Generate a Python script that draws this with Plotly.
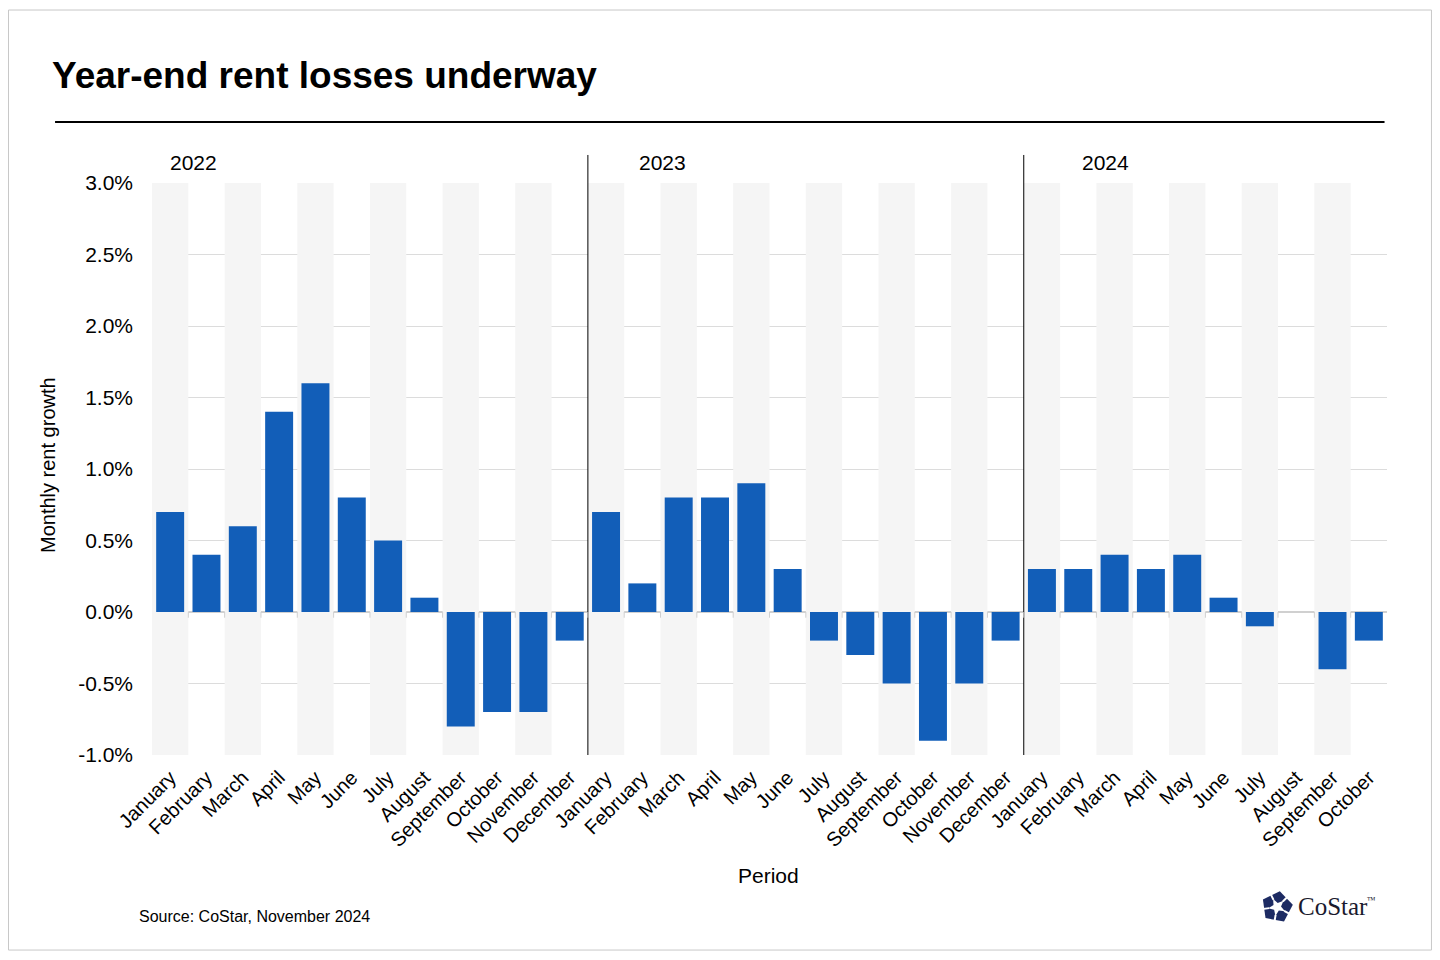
import math
import plotly.graph_objects as go

# monthly rent growth, %
months_2022 = ["January", "February", "March", "April", "May", "June", "July",
               "August", "September", "October", "November", "December"]
months_2023 = list(months_2022)
months_2024 = months_2022[:10]

growth_2022 = [0.7, 0.4, 0.6, 1.4, 1.6, 0.8, 0.5, 0.1, -0.8, -0.7, -0.7, -0.2]
growth_2023 = [0.7, 0.2, 0.8, 0.8, 0.9, 0.3, -0.2, -0.3, -0.5, -0.9, -0.5, -0.2]
growth_2024 = [0.3, 0.3, 0.4, 0.3, 0.4, 0.1, -0.1, 0.0, -0.4, -0.2]

years = ["2022", "2023", "2024"]
year_label_x = [0.034, 0.413, 0.772]

tick_vals = [0.03, 0.025, 0.02, 0.015, 0.01, 0.005, 0.0, -0.005, -0.01]
tick_text = ["3.0%", "2.5%", "2.0%", "1.5%", "1.0%", "0.5%", "0.0%", "-0.5%", "-1.0%"]

labels = months_2022 + months_2023 + months_2024
values = [v / 100 for v in growth_2022 + growth_2023 + growth_2024]
idx = list(range(len(labels)))

FONT = "Liberation Sans, Arial, sans-serif"
SERIF = "Liberation Serif, Times New Roman, serif"
BLUE = "#125EB8"
NAVY = "#1d2b63"

fig = go.Figure()

# alternating grey column bands
band_x = [i for i in idx if i % 2 == 0]
fig.add_trace(go.Bar(
    x=band_x, y=[0.04] * len(band_x), base=[-0.01] * len(band_x),
    width=1, marker=dict(color="#f5f5f5", line=dict(width=0)),
    hoverinfo="skip", showlegend=False,
))

fig.add_trace(go.Bar(
    x=idx, y=values, width=0.77,
    marker=dict(color=BLUE, line=dict(width=0)),
    showlegend=False,
))

fig.update_layout(
    width=1424, height=944,
    barmode="overlay",
    paper_bgcolor="white", plot_bgcolor="white",
    margin=dict(l=144, r=45, t=175, b=197),
    font=dict(family=FONT, color="black"),
    title=dict(text="<b>Year-end rent losses underway</b>", xref="container", yref="container",
               x=0.0309, y=0.929, xanchor="left", yanchor="middle",
               font=dict(size=37, family=FONT, color="black")),
)

fig.update_xaxes(
    range=[-0.5, len(labels) - 0.5],
    tickmode="array", tickvals=idx, ticktext=labels,
    tickangle=-45, tickfont=dict(size=20),
    showgrid=False, zeroline=False, showline=False, ticks="",
    ticklabelstandoff=6,
)

fig.update_yaxes(
    range=[-0.01, 0.03],
    tickmode="array", tickvals=tick_vals, ticktext=tick_text,
    tickfont=dict(size=21),
    showgrid=True, gridcolor="#dcdcdc", gridwidth=1,
    zeroline=True, zerolinecolor="#d0d0d0", zerolinewidth=1.5,
    ticklabelstandoff=18,
)


def poly(points):
    return "M " + " L ".join(f"{x:.1f} {y:.1f}" for x, y in points) + " Z"


shapes = []
# outer frame
shapes.append(dict(type="rect", xref="paper", yref="paper",
                   x0=-0.1162, x1=1.0360, y0=-0.341, y1=1.3024,
                   line=dict(color="#c8c8c8", width=1), layer="below"))
# rule under the title
shapes.append(dict(type="line", xref="paper", yref="paper",
                   x0=-0.0785, x1=0.998, y0=1.1066, y1=1.1066,
                   line=dict(color="black", width=2)))
# year dividers
for b in [11.5, 23.5]:
    shapes.append(dict(type="line", xref="x", yref="paper",
                       x0=b, x1=b, y0=0, y1=1.049,
                       line=dict(color="black", width=1)))
# small ticks along the zero line between categories
for i in idx[:-1]:
    shapes.append(dict(type="line", xref="x", yref="y",
                       x0=i + 0.5, x1=i + 0.5, y0=0, y1=-0.0004,
                       line=dict(color="#d0d0d0", width=1)))

# logo mark: navy pentagon with a white star cut in
cx, cy, R = 15, 15, 16
rot = 80
outer = [(cx + R * math.cos(math.radians(rot + 72 * k)), cy + R * math.sin(math.radians(rot + 72 * k)))
         for k in range(5)]
star = []
for k in range(10):
    r = 9 if k % 2 == 0 else 4
    a = math.radians(rot + 36 + 36 * k)
    star.append((cx + r * math.cos(a), cy + r * math.sin(a)))
logo = dict(xref="paper", yref="paper", xsizemode="pixel", ysizemode="pixel",
            xanchor=0.8988, yanchor=-0.292)
shapes.append(dict(type="path", path=poly(outer), fillcolor=NAVY, line=dict(width=0), **logo))
shapes.append(dict(type="path", path=poly(star), fillcolor="white", line=dict(width=0), **logo))
for k in range(5):
    a = math.radians(rot + 36 + 72 * k)
    shapes.append(dict(type="path",
                       path=f"M {cx + 8 * math.cos(a):.1f} {cy + 8 * math.sin(a):.1f} "
                            f"L {cx + 18 * math.cos(a):.1f} {cy + 18 * math.sin(a):.1f}",
                       line=dict(color="white", width=2), **logo))
fig.update_layout(shapes=shapes)

annotations = []
for y, xp in zip(years, year_label_x):
    annotations.append(dict(text=y, xref="paper", yref="paper", x=xp, y=1.035,
                            xanchor="center", yanchor="middle", showarrow=False,
                            font=dict(size=21)))
annotations.append(dict(text="Monthly rent growth", xref="paper", yref="paper",
                        x=-0.0842, y=0.507, textangle=-90, xanchor="center", yanchor="middle",
                        showarrow=False, font=dict(size=20)))
annotations.append(dict(text="Period", xref="paper", yref="paper",
                        x=0.4988, y=-0.2115, xanchor="center", yanchor="middle",
                        showarrow=False, font=dict(size=21)))
annotations.append(dict(text="Source: CoStar, November 2024", xref="paper", yref="paper",
                        x=-0.0122, y=-0.2832, xanchor="left", yanchor="middle",
                        showarrow=False, font=dict(size=16)))
annotations.append(dict(text="CoStar", xref="paper", yref="paper",
                        x=0.926, y=-0.2657, xanchor="left", yanchor="middle",
                        showarrow=False, font=dict(size=25, family=SERIF, color="#1a1a2e")))
annotations.append(dict(text="™", xref="paper", yref="paper",
                        x=0.982, y=-0.254, xanchor="left", yanchor="middle",
                        showarrow=False, font=dict(size=9, family=SERIF, color="#1a1a2e")))
fig.update_layout(annotations=annotations)

fig.write_html("out.html")
